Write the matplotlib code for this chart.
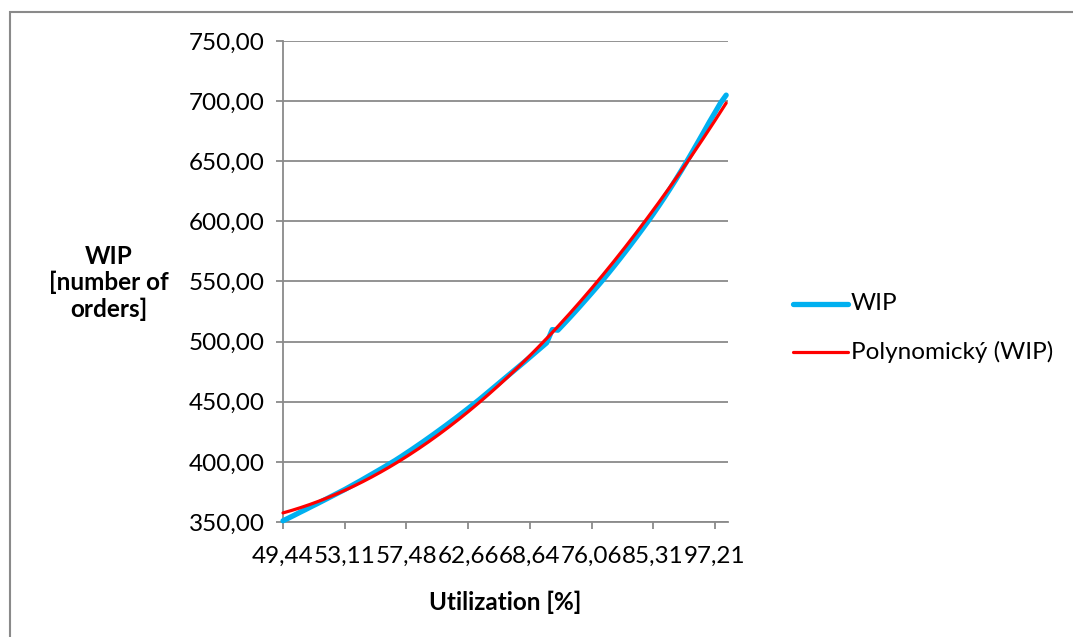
import numpy as np
import matplotlib
matplotlib.use("Agg")
import matplotlib.pyplot as plt
from matplotlib.lines import Line2D
from matplotlib.patches import Rectangle
from matplotlib.ticker import FuncFormatter

plt.rcParams['font.family'] = ['Lato', 'DejaVu Sans']

# ---- data ----
wip = [351.0, 353.3, 355.6, 358.0, 360.3, 362.7, 365.0, 367.4, 369.8, 372.2,
       374.6, 377.0, 379.6, 382.2, 384.8, 387.5, 390.2, 392.9, 395.6, 398.4,
       401.2, 404.2, 407.3, 410.4, 413.6, 416.8, 420.1, 423.4, 426.8, 430.2,
       433.7, 437.2, 440.8, 444.4, 448.1, 451.8, 455.7, 459.6, 463.5, 467.4,
       471.3, 475.2, 479.1, 483.0, 487.0, 491.0, 495.0, 499.0, 510.0, 509.5,
       514.4, 519.4, 524.5, 529.7, 535.0, 540.3, 545.7, 551.2, 556.9, 562.7,
       568.6, 574.6, 580.7, 586.9, 593.2, 599.6, 606.2, 613.0, 620.0, 627.2,
       634.6, 642.2, 650.0, 658.0, 666.1, 674.3, 682.6, 690.5, 698.5, 705.0]
util_labels = ["49,44", "53,11", "57,48", "62,66", "68,64", "76,06", "85,31", "97,21"]
label_step = 11
y_ticks = [350, 400, 450, 500, 550, 600, 650, 700, 750]

W, H = 1073, 637
FS = 17.5
fig = plt.figure(figsize=(W / 100, H / 100), dpi=100)
ax = fig.add_axes([283 / W, 1 - 522 / H, (728 - 283) / W, (522 - 41) / H])

GRAY = '#8a8a8a'
BLUE = '#00B0F0'
RED = '#FF0000'

x = np.arange(len(wip))
coef = np.polyfit(x, wip, 2)
xf = np.linspace(0, len(wip) - 1, 400)
trend = np.polyval(coef, xf)

ax.plot(x, wip, color=BLUE, lw=3.8, solid_capstyle='round', solid_joinstyle='round',
        clip_on=False, zorder=3)
ax.plot(xf, trend, color=RED, lw=2.3, solid_capstyle='round', clip_on=False, zorder=4)

ax.set_xlim(0, (728 - 283.3) / 5.606)
ax.set_ylim(350, 750)
ax.set_yticks(y_ticks)
ax.yaxis.set_major_formatter(FuncFormatter(lambda v, p: f"{v:.2f}".replace('.', ',')))
ax.set_xticks(x[::label_step])
ax.set_xticklabels(util_labels)

ax.grid(axis='y', color=GRAY, lw=1.3)
ax.set_axisbelow(True)
for s in ['top', 'right']:
    ax.spines[s].set_visible(False)
for s in ['left', 'bottom']:
    ax.spines[s].set_color(GRAY)
    ax.spines[s].set_linewidth(1.3)

ax.tick_params(axis='y', length=5, width=1.3, color=GRAY, pad=8, labelsize=FS, labelcolor='#000000')
ax.tick_params(axis='x', length=5, width=1.3, color=GRAY, pad=12, labelsize=FS, labelcolor='#000000')

# axis titles
fig.text(505 / W, 1 - 602 / H, "Utilization [%]", ha='center', va='center',
         fontsize=FS, fontweight='bold')
fig.text(109 / W, 1 - 283 / H, "WIP\n[number of\norders]", ha='center', va='center',
         fontsize=FS, fontweight='bold', linespacing=1.18)

# legend (manual)
fig.add_artist(Line2D([793 / W, 848 / W], [1 - 304 / H] * 2, color=BLUE, lw=3.8,
                      solid_capstyle='round', transform=fig.transFigure))
fig.add_artist(Line2D([793 / W, 848 / W], [1 - 352 / H] * 2, color=RED, lw=2.3,
                      solid_capstyle='round', transform=fig.transFigure))
fig.text(851 / W, 1 - 304 / H, "WIP", ha='left', va='center', fontsize=FS)
fig.text(851 / W, 1 - 352 / H, "Polynomický (WIP)", ha='left', va='center', fontsize=FS)

# chart border
fig.add_artist(Rectangle((9.5 / W, -0.1), 1.2, 1 - 12 / H + 0.1, transform=fig.transFigure,
                         fill=False, edgecolor=GRAY, lw=1.5))

fig.savefig("out.png", dpi=100)
